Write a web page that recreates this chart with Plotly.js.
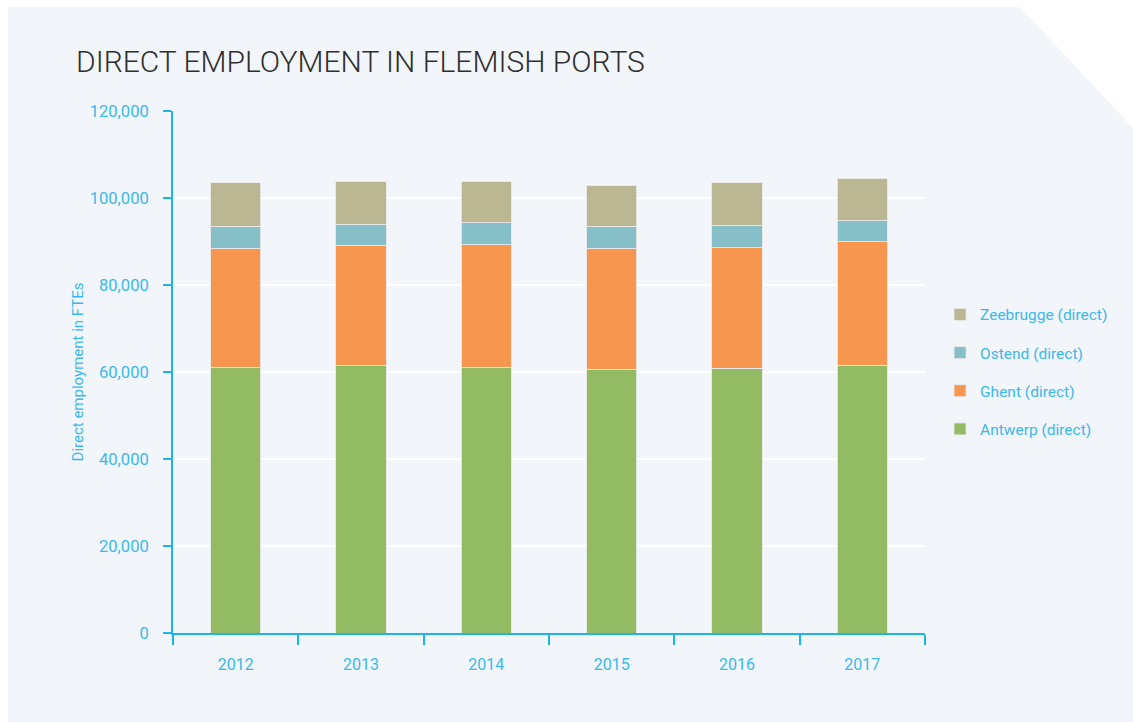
<!DOCTYPE html>
<html>
<head>
<meta charset="utf-8">
<script src="https://cdn.plot.ly/plotly-3.0.1.min.js"></script>
<style>
  html, body { margin: 0; padding: 0; background: #ffffff; }
  #panel { position: absolute; left: 8px; top: 7px; width: 1125px; height: 715px;
           background: #f2f6fb;
           clip-path: polygon(0 0, 1012px 0, 1125px 121px, 1125px 715px, 0 715px); }
  #chart { position: absolute; left: 0; top: 0; width: 1133px; height: 722px; }
</style>
</head>
<body>
<div id="panel"></div>
<div id="chart"></div>
<script>
const years = ['2012', '2013', '2014', '2015', '2016', '2017'];
const antwerp   = [61150, 61450, 61080, 60620, 60920, 61610];
const ghent     = [27290, 27520, 28180, 27820, 27650, 28340];
const ostend    = [5060, 4990, 5060, 5060, 5060, 4830];
const zeebrugge = [10020, 9790, 9430, 9330, 9820, 9750];

const seriesNames = ['Antwerp (direct)', 'Ghent (direct)', 'Ostend (direct)', 'Zeebrugge (direct)'];
const seriesValues = [antwerp, ghent, ostend, zeebrugge];
const seriesColors = ['#93bb63', '#f6964f', '#86bfc8', '#bab792'];

const blue = '#1db4ea';
const labelBlue = '#3ab9ec';
const font = 'Roboto, "Liberation Sans", Arial, sans-serif';

const traces = seriesNames.map((name, i) => ({
  type: 'bar',
  name: name,
  x: years,
  y: seriesValues[i],
  legendgroup: 'g' + i,
  legendrank: 1000 - i,
  marker: { color: seriesColors[i], line: { color: 'rgba(232,232,232,0.9)', width: 1 } },
  hovertemplate: '%{x}: %{y:,}<extra>' + name + '</extra>'
}));

const layout = {
  width: 1133, height: 722,
  paper_bgcolor: 'rgba(0,0,0,0)',
  plot_bgcolor: 'rgba(0,0,0,0)',
  margin: { l: 173, r: 208, t: 111, b: 89 },
  barmode: 'stack',
  bargap: 0.6,
  font: { family: font, color: labelBlue, size: 16 },
  title: {
    text: 'DIRECT EMPLOYMENT IN FLEMISH PORTS',
    font: { family: font, size: 30, color: '#2e2e2e', weight: 300 },
    xref: 'container', yref: 'container',
    x: 76 / 1133, xanchor: 'left',
    y: 1 - 61 / 722, yanchor: 'middle'
  },
  xaxis: {
    type: 'category',
    showgrid: false,
    showline: true, linecolor: blue, linewidth: 2,
    ticks: 'outside', tickson: 'boundaries', ticklen: 10, tickwidth: 2, tickcolor: blue,
    tickfont: { family: font, size: 16, color: labelBlue },
    ticklabelstandoff: 16,
    zeroline: false,
    fixedrange: true
  },
  yaxis: {
    range: [0, 120000],
    dtick: 20000,
    tickformat: ',d',
    showgrid: true, gridcolor: '#ffffff', gridwidth: 2,
    showline: true, linecolor: blue, linewidth: 2,
    ticks: 'outside', ticklen: 8, tickwidth: 2, tickcolor: blue,
    tickfont: { family: font, size: 16.5, color: labelBlue },
    ticklabelstandoff: 11,
    zeroline: false,
    title: { text: 'Direct employment in FTEs', font: { family: font, size: 15, color: labelBlue }, standoff: 3 },
    fixedrange: true
  },
  legend: {
    traceorder: 'grouped',
    x: 1.02, xanchor: 'left',
    y: 0.642, yanchor: 'top',
    font: { family: font, size: 15.5, color: labelBlue },
    tracegroupgap: 15,
    bgcolor: 'rgba(0,0,0,0)'
  },
  showlegend: true
};

Plotly.newPlot('chart', traces, layout, { displayModeBar: false, staticPlot: false });
</script>
</body>
</html>
